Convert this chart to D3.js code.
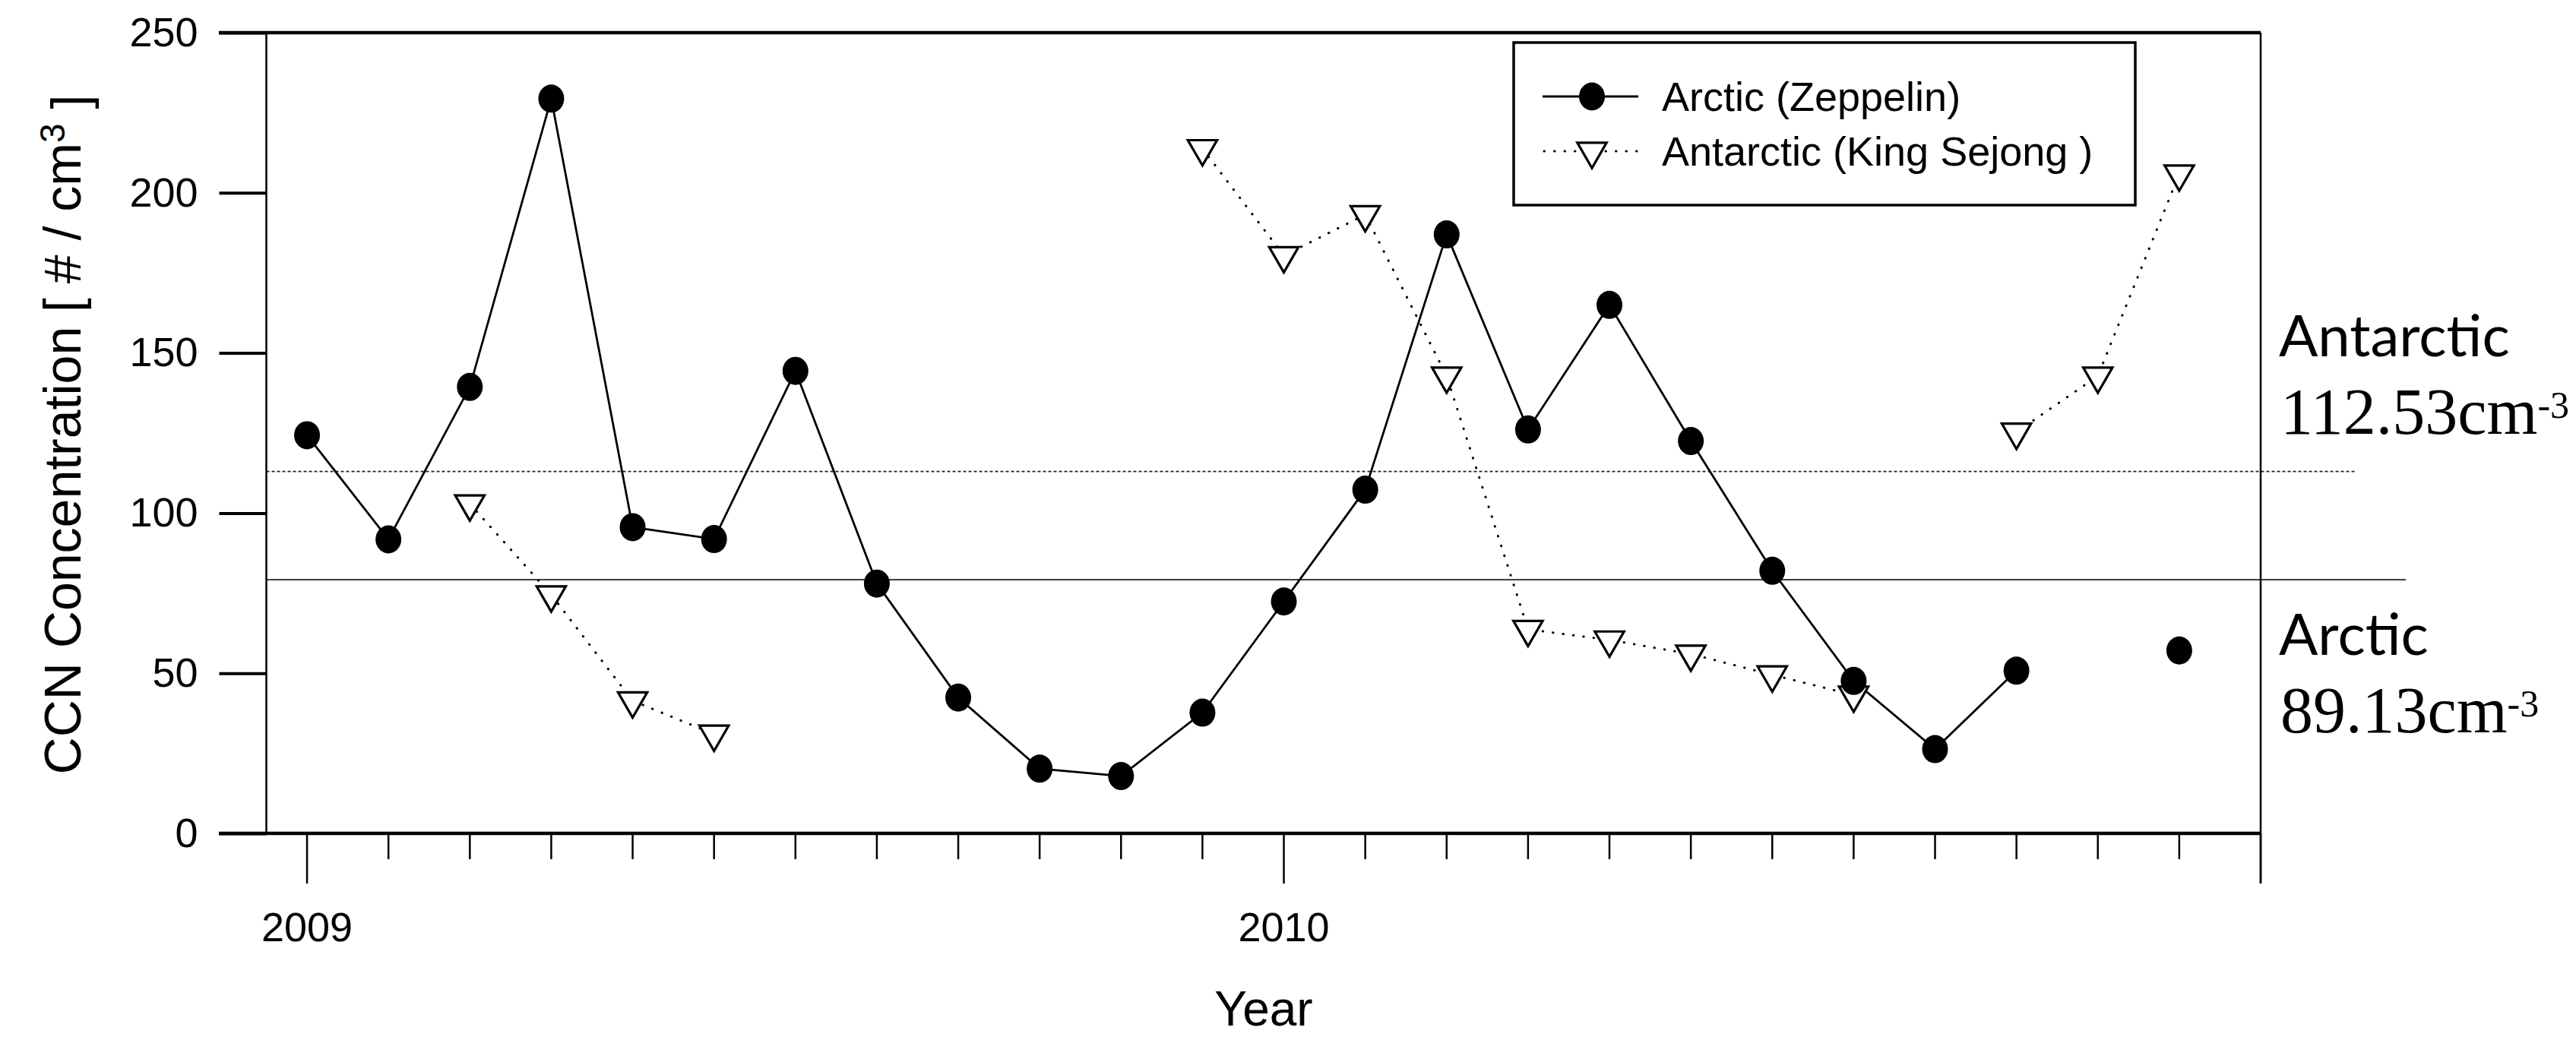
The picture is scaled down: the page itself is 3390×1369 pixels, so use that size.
<!DOCTYPE html>
<html lang="en">
<head>
<meta charset="utf-8">
<title>CCN Concentration</title>
<script src="https://d3js.org/d3.v7.min.js"></script>
<style>
body { margin: 0; background: #fff; }
.tick-label { font-family: "Liberation Sans", Arial, sans-serif; font-size: 54px; }
</style>
</head>
<body>
<svg width="3390" height="1369"></svg>
<script>
// monthly values, Jan 2009 .. Dec 2010 (null = no data)
var months = d3.range(24);
var arctic = [124.3, 91.8, 139.4, 229.4, 95.6, 91.9, 144.4, 78.0, 42.4, 20.2, 17.9, 37.7,
              72.4, 107.3, 187.0, 126.1, 165.0, 122.5, 82.0, 47.6, 26.3, 50.8, null, 57.1];
var antarctic = [null, null, 102.9, 74.5, 41.4, 31.0, null, null, null, null, null, 213.8,
                 180.4, 193.2, 142.8, 63.7, 60.4, 56.0, 49.5, 43.2, null, 125.3, 142.8, 205.9];
var seriesNames = ["Arctic (Zeppelin)", "Antarctic (King Sejong )"];
var yTicks = [0, 50, 100, 150, 200, 250];
var yearTicks = [{m: 0, label: "2009"}, {m: 12, label: "2010"}, {m: 24, label: ""}];
// reference lines as drawn in the figure, and their labels
var refLines = [{name: "Antarctic", value: 113.0, text: "112.53", dashed: true},
                {name: "Arctic", value: 79.2, text: "89.13", dashed: false}];

var svg = d3.select("svg");
var pLeft = 350.5, pRight = 2975, pTop = 43, pBottom = 1097;

var x = d3.scaleLinear().domain([-0.5, 24]).range([pLeft, pRight]);
var y = d3.scaleLinear().domain([0, 250]).range([pBottom, pTop]);

//// reference lines
svg.selectAll(".ref")
  .data(refLines)
  .enter().append("line")
  .attr("x1", pLeft)
  .attr("x2", function(d) { return d.dashed ? 3100 : 3166; })
  .attr("y1", function(d) { return y(d.value); })
  .attr("y2", function(d) { return y(d.value); })
  .attr("stroke", "#222")
  .attr("stroke-width", function(d) { return d.dashed ? 1.6 : 1.8; })
  .attr("stroke-dasharray", function(d) { return d.dashed ? "4,3" : null; });

//// frame
svg.append("line").attr("x1", 288).attr("x2", pRight).attr("y1", pTop).attr("y2", pTop)
  .attr("stroke", "#000").attr("stroke-width", 4.5);
svg.append("line").attr("x1", 288).attr("x2", pRight).attr("y1", pBottom).attr("y2", pBottom)
  .attr("stroke", "#000").attr("stroke-width", 4.5);
svg.append("line").attr("x1", pLeft).attr("x2", pLeft).attr("y1", pTop).attr("y2", pBottom)
  .attr("stroke", "#000").attr("stroke-width", 2.5);
svg.append("line").attr("x1", pRight).attr("x2", pRight).attr("y1", pTop).attr("y2", 1163)
  .attr("stroke", "#000").attr("stroke-width", 2.5);

//// y axis
var yAxis = d3.axisLeft(y).tickValues(yTicks).tickSize(62).tickPadding(28);
var gy = svg.append("g").attr("transform", "translate(" + pLeft + ",0)").call(yAxis);
gy.attr("font-size", null).attr("font-family", null);
gy.select(".domain").remove();
gy.selectAll(".tick line").attr("stroke", "#000").attr("stroke-width", 4);
gy.selectAll(".tick text").attr("class", "tick-label").attr("fill", "#000");

//// x axis: monthly minor ticks, yearly major ticks
var gx = svg.append("g");
gx.selectAll(".minor")
  .data(months.filter(function(m) { return m % 12 != 0; }))
  .enter().append("line")
  .attr("x1", function(d) { return x(d); }).attr("x2", function(d) { return x(d); })
  .attr("y1", pBottom).attr("y2", pBottom + 34)
  .attr("stroke", "#000").attr("stroke-width", 2.5);
gx.selectAll(".major")
  .data(yearTicks)
  .enter().append("line")
  .attr("x1", function(d) { return x(d.m); }).attr("x2", function(d) { return x(d.m); })
  .attr("y1", pBottom).attr("y2", pBottom + 66)
  .attr("stroke", "#000").attr("stroke-width", 2.5);
gx.selectAll("text")
  .data(yearTicks)
  .enter().append("text")
  .attr("class", "tick-label")
  .attr("x", function(d) { return x(d.m); })
  .attr("y", 1239)
  .attr("text-anchor", "middle")
  .text(function(d) { return d.label; });

//// axis titles
svg.append("text")
  .attr("font-family", "Liberation Sans, Arial, sans-serif")
  .attr("font-size", "64px")
  .attr("x", 1663).attr("y", 1350)
  .attr("text-anchor", "middle")
  .text("Year");

var yt = svg.append("text")
  .attr("transform", "translate(106,572) rotate(-90)")
  .attr("text-anchor", "middle")
  .attr("font-family", "Liberation Sans, Arial, sans-serif")
  .attr("font-size", "68px");
yt.append("tspan").text("CCN Concentration [ # / cm");
yt.append("tspan").attr("dy", "-0.45em").attr("font-size", "46px").text("3");
yt.append("tspan").attr("dy", "0.45em").text(" ]");

//// data lines
var line = d3.line()
  .defined(function(d) { return d != null; })
  .x(function(d, i) { return x(i); })
  .y(function(d) { return y(d); });

svg.append("path")
  .datum(antarctic)
  .attr("d", line)
  .attr("fill", "none")
  .attr("stroke", "#000")
  .attr("stroke-width", 3)
  .attr("stroke-linecap", "round")
  .attr("stroke-dasharray", "0.5,13");

svg.append("path")
  .datum(arctic)
  .attr("d", line)
  .attr("fill", "none")
  .attr("stroke", "#000")
  .attr("stroke-width", 2.8);

var tri = d3.symbol().type(d3.symbolTriangle).size(640);

function triangle(sel) {
  sel.attr("d", tri)
    .attr("fill", "#fff")
    .attr("stroke", "#000")
    .attr("stroke-width", 3.2);
}

svg.selectAll(".ant")
  .data(antarctic.map(function(v, i) { return {i: i, v: v}; }).filter(function(d) { return d.v != null; }))
  .enter().append("path")
  .attr("class", "ant")
  .attr("transform", function(d) { return "translate(" + x(d.i) + "," + y(d.v) + ") rotate(180)"; })
  .call(triangle);

svg.selectAll(".arc")
  .data(arctic.map(function(v, i) { return {i: i, v: v}; }).filter(function(d) { return d.v != null; }))
  .enter().append("ellipse")
  .attr("class", "arc")
  .attr("cx", function(d) { return x(d.i); })
  .attr("cy", function(d) { return y(d.v); })
  .attr("rx", 17).attr("ry", 18.5)
  .attr("fill", "#000");

//// legend
var lg = svg.append("g");
lg.append("rect")
  .attr("x", 1992).attr("y", 56).attr("width", 818).attr("height", 214)
  .attr("fill", "#fff").attr("stroke", "#000").attr("stroke-width", 3.5);
var rows = [127, 199];
lg.append("line").attr("x1", 2030).attr("x2", 2156).attr("y1", rows[0]).attr("y2", rows[0])
  .attr("stroke", "#000").attr("stroke-width", 2.8);
lg.append("ellipse").attr("cx", 2095).attr("cy", rows[0]).attr("rx", 17).attr("ry", 18.5).attr("fill", "#000");
lg.append("line").attr("x1", 2032).attr("x2", 2156).attr("y1", rows[1]).attr("y2", rows[1])
  .attr("stroke", "#000").attr("stroke-width", 3).attr("stroke-linecap", "round")
  .attr("stroke-dasharray", "0.5,13");
lg.append("path").attr("transform", "translate(2095," + rows[1] + ") rotate(180)").call(triangle);
lg.selectAll(".lt")
  .data(seriesNames)
  .enter().append("text")
  .attr("class", "tick-label")
  .attr("x", 2187)
  .attr("y", function(d, i) { return rows[i] + 19; })
  .text(function(d) { return d; });

//// reference labels on the right
var labY = [[469, 571], [862, 964]];
refLines.forEach(function(d, i) {
  svg.append("text")
    .attr("x", 2999).attr("y", labY[i][0])
    .attr("font-family", "Lato, 'Open Sans', sans-serif")
    .attr("font-size", "76px")
    .text(d.name);
  var t = svg.append("text")
    .attr("x", 3001).attr("y", labY[i][1])
    .attr("font-family", "Liberation Serif, 'Times New Roman', serif")
    .attr("font-size", "86px");
  t.append("tspan").text(d.text + "cm");
  t.append("tspan").attr("dy", "-0.42em").attr("font-size", "50px").text("-3");
});
</script>
</body>
</html>
